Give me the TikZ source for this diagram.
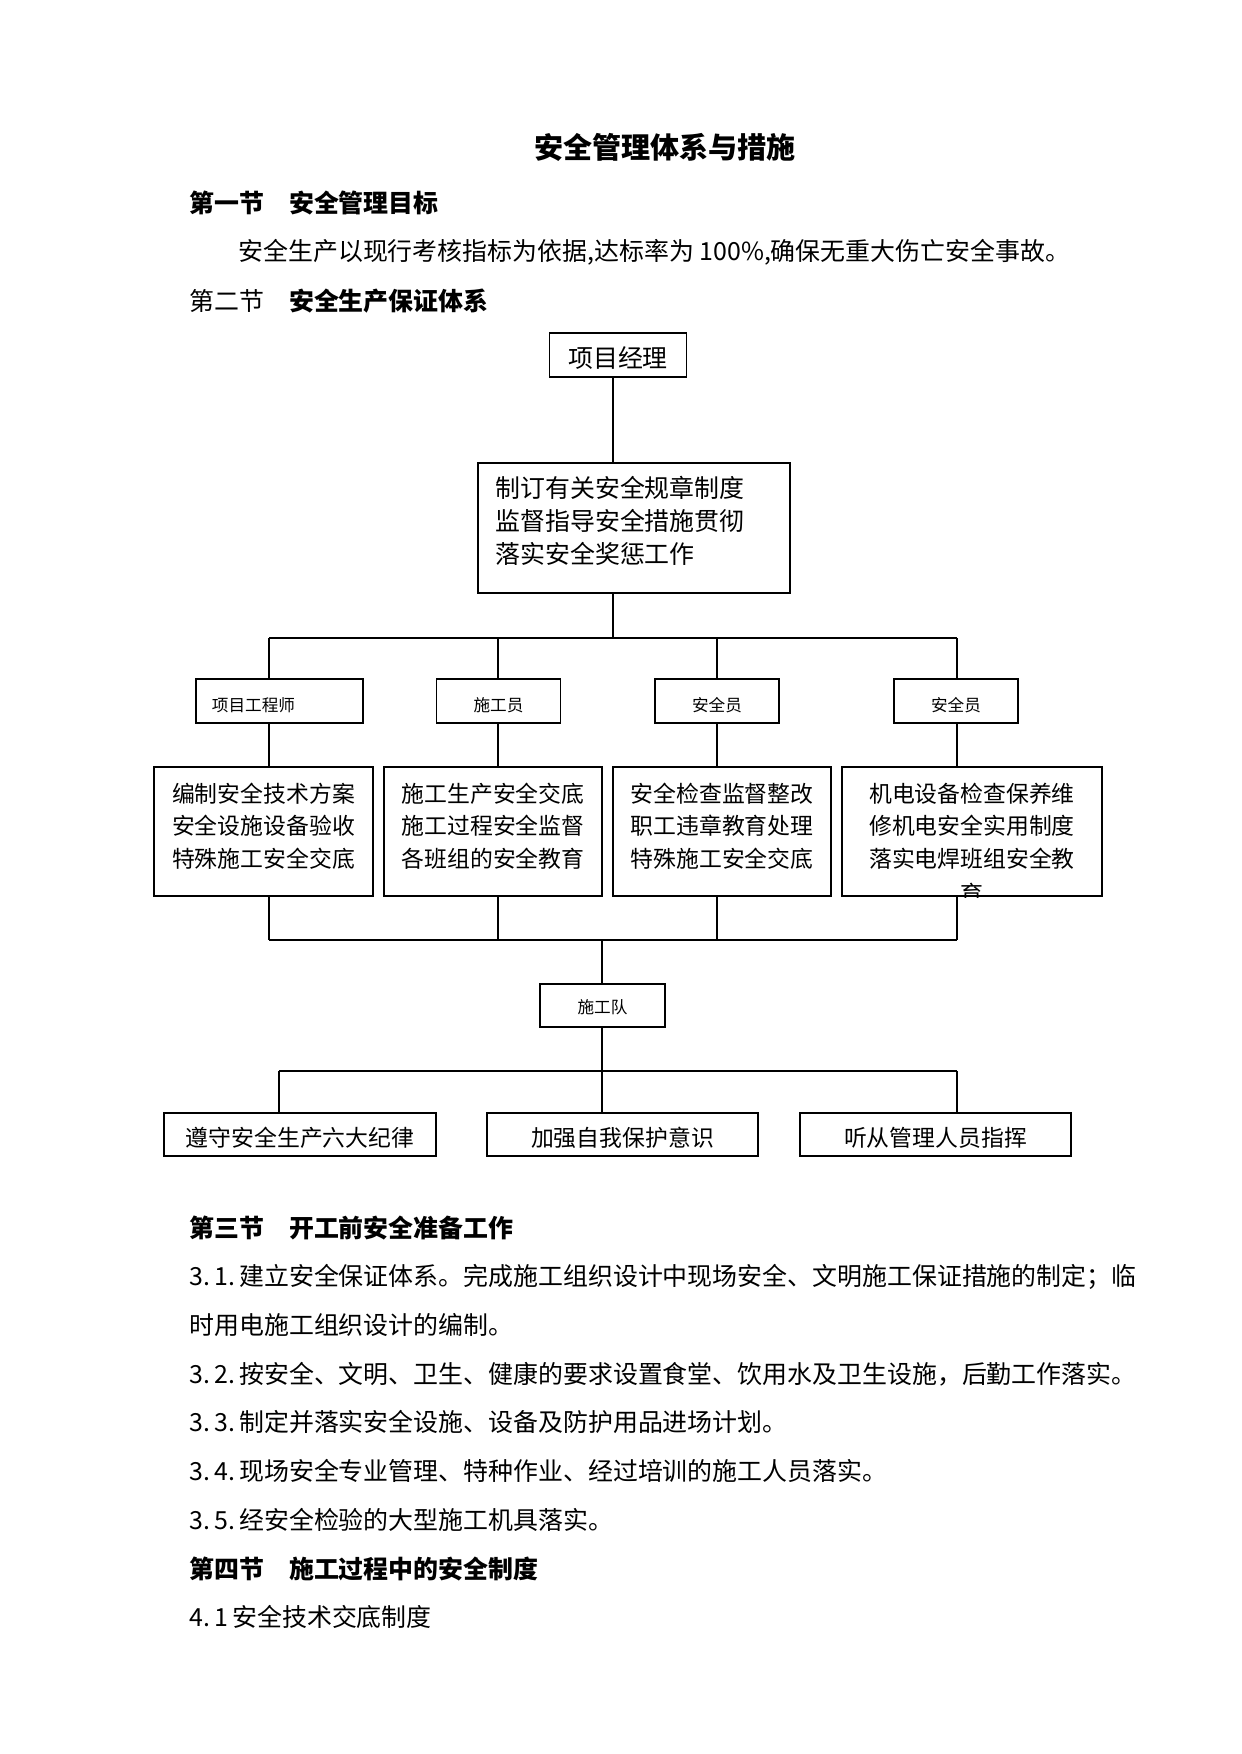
\documentclass[tikz,border=0pt]{standalone}
\usepackage{fontspec}
\setmainfont{Noto Sans CJK SC}
\usetikzlibrary{positioning, calc}
\newlength{\px}
\setlength{\px}{0.16922mm}
\tikzset{
  box/.style={draw, line width=0.9pt, inner sep=0pt, align=center},
  rolebox/.style={box, minimum width=124\px, minimum height=44\px, text height=10.8pt, font=\fontsize{8pt}{10pt}\selectfont},
  dutybox/.style={box, line width=1.2pt, minimum width=218\px, minimum height=129\px, text depth=6pt, font=\fontsize{11pt}{15.6pt}\selectfont},
  crewbox/.style={box, minimum width=271\px, minimum height=43\px, text height=12.3pt, font=\fontsize{11pt}{13pt}\selectfont},
  link/.style={line width=0.6pt},
  body/.style={anchor=west, inner sep=0pt, font=\fontsize{12pt}{14pt}\selectfont},
  head/.style={body, font=\fontsize{12pt}{14pt}\selectfont\bfseries},
}

\begin{document}
\begin{tikzpicture}[x=0.16922mm, y=-0.16922mm]
  \useasboundingbox (0,0) rectangle (1241,1754);

  % page text above the chart
  \node[font=\fontsize{14pt}{16pt}\selectfont\bfseries] (title) at (665,147) {安全管理体系与措施};
  \node[head] (sec1) at (189,203) {第一节\quad 安全管理目标};
  \node[body] (goal) at (238,252) {安全生产以现行考核指标为依据,达标率为 100\%,确保无重大伤亡安全事故。};
  \node[body] (sec2) at (189,301) {第二节\quad\textbf{安全生产保证体系}};

  % chart
  \node[box, minimum width=137\px, minimum height=44\px, text height=13.2pt, font=\fontsize{12pt}{14pt}\selectfont] (pm) at (618,355) {项目经理};
  \node[box, minimum width=312\px, minimum height=130\px] (duty) at (634,528) {};
  \node[body, anchor=north west, align=left, font=\fontsize{12pt}{15.8pt}\selectfont] (dutytxt) at (495,476)
    {制订有关安全规章制度\\监督指导安全措施贯彻\\落实安全奖惩工作};

  \node[rolebox, minimum width=167\px] (eng) at (279.5,701) {项目工程师\hspace{52\px}};
  \node[rolebox] (cons) at (498.5,701) {施工员};
  \node[rolebox] (safe1) at (717,701) {安全员};
  \node[rolebox] (safe2) at (956,701) {安全员};

  \node[dutybox, minimum width=219\px] (task1) at (263.5,831.5) {编制安全技术方案\\安全设施设备验收\\特殊施工安全交底};
  \node[dutybox] (task2) at (493,831.5) {施工生产安全交底\\施工过程安全监督\\各班组的安全教育};
  \node[dutybox] (task3) at (722,831.5) {安全检查监督整改\\职工违章教育处理\\特殊施工安全交底};
  \node[dutybox, minimum width=260\px] (task4) at (972,831.5) {机电设备检查保养维\\修机电安全实用制度\\落实电焊班组安全教};
  \begin{scope}
    \clip (task4.north west) rectangle (task4.south east);
    \node[font=\fontsize{11pt}{13pt}\selectfont, inner sep=0pt] (task4end) at (972,894) {育};
  \end{scope}

  \node[box, minimum width=125\px, minimum height=43\px, text height=8.6pt, font=\fontsize{8pt}{10pt}\selectfont] (team) at (602.5,1005.5) {施工队};

  \node[crewbox, minimum width=272\px] (rule1) at (300,1134.5) {遵守安全生产六大纪律};
  \node[crewbox] (rule2) at (622.5,1134.5) {加强自我保护意识};
  \node[crewbox] (rule3) at (935.5,1134.5) {听从管理人员指挥};

  \coordinate (hub1) at (613,638);
  \coordinate (hub2) at (602,940);
  \coordinate (hub3) at (602,1071);
  \coordinate (c1) at (269,638);
  \coordinate (c2) at (498,638);
  \coordinate (c3) at (717,638);
  \coordinate (c4) at (957,638);
  \coordinate (f1) at (279,1071);
  \coordinate (f3) at (957,1071);

  \draw[link] (hub1 |- pm.south) -- (hub1 |- duty.north);
  \draw[link] (hub1 |- duty.south) -- (hub1);
  \draw[link] (c1) -- (c4);
  \draw[link] (c1) -- (c1 |- eng.north);
  \draw[link] (c2) -- (c2 |- cons.north);
  \draw[link] (c3) -- (c3 |- safe1.north);
  \draw[link] (c4) -- (c4 |- safe2.north);
  \draw[link] (c1 |- eng.south) -- (c1 |- task1.north);
  \draw[link] (c2 |- cons.south) -- (c2 |- task2.north);
  \draw[link] (c3 |- safe1.south) -- (c3 |- task3.north);
  \draw[link] (c4 |- safe2.south) -- (c4 |- task4.north);
  \draw[link] (c1 |- task1.south) -- (c1 |- hub2);
  \draw[link] (c2 |- task2.south) -- (c2 |- hub2);
  \draw[link] (c3 |- task3.south) -- (c3 |- hub2);
  \draw[link] (c4 |- task4.south) -- (c4 |- hub2);
  \draw[link] (c1 |- hub2) -- (c4 |- hub2);
  \draw[link] (hub2) -- (hub2 |- team.north);
  \draw[link] (hub3 |- team.south) -- (hub3);
  \draw[link] (f1) -- (f3);
  \draw[link] (f1) -- (f1 |- rule1.north);
  \draw[link] (hub3) -- (hub3 |- rule2.north);
  \draw[link] (f3) -- (f3 |- rule3.north);

  % page text below the chart
  \node[head] (sec3) at (189,1228) {第三节\quad 开工前安全准备工作};
  \node[body] (item31) at (189,1277) {3.\,1.\,建立安全保证体系。完成施工组织设计中现场安全、文明施工保证措施的制定；临};
  \node[body] (item31b) at (189,1325) {时用电施工组织设计的编制。};
  \node[body] (item32) at (189,1374) {3.\,2.\,按安全、文明、卫生、健康的要求设置食堂、饮用水及卫生设施，后勤工作落实。};
  \node[body] (item33) at (189,1422) {3.\,3.\,制定并落实安全设施、设备及防护用品进场计划。};
  \node[body] (item34) at (189,1471) {3.\,4.\,现场安全专业管理、特种作业、经过培训的施工人员落实。};
  \node[body] (item35) at (189,1520) {3.\,5.\,经安全检验的大型施工机具落实。};
  \node[head] (sec4) at (189,1569) {第四节\quad 施工过程中的安全制度};
  \node[body] (item41) at (189,1617) {4.\,1\,安全技术交底制度};
\end{tikzpicture}
\end{document}
